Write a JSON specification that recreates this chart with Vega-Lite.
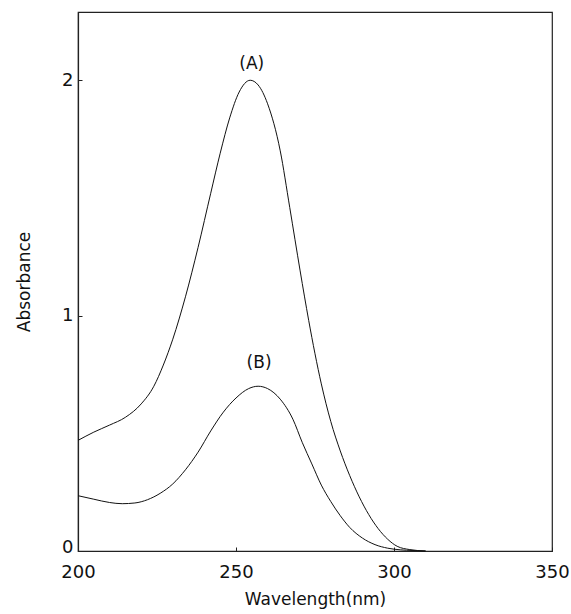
{
  "$schema": "https://vega.github.io/schema/vega-lite/v6.json",
  "width": 474,
  "height": 539,
  "autosize": {"type": "none"},
  "padding": {"left": 78, "top": 12, "right": 19, "bottom": 63},
  "background": "white",
  "config": {
    "view": {"stroke": "#222", "strokeWidth": 1.2},
    "font": "DejaVu Sans",
    "axis": {
      "grid": false,
      "domainColor": "#222",
      "domainWidth": 1.2,
      "tickColor": "#222",
      "tickSize": -4,
      "labelColor": "#111",
      "titleColor": "#111",
      "labelFont": "DejaVu Sans",
      "titleFont": "DejaVu Sans",
      "labelFontSize": 18,
      "titleFontSize": 17,
      "titleFontWeight": "normal",
      "labelFlush": false,
      "labelOverlap": false
    }
  },
  "datasets": {
    "spectra": [
      {"series": "A", "wavelength": 200, "absorbance": 0.47},
      {"series": "A", "wavelength": 205, "absorbance": 0.505},
      {"series": "A", "wavelength": 210, "absorbance": 0.535},
      {"series": "A", "wavelength": 215, "absorbance": 0.568},
      {"series": "A", "wavelength": 220, "absorbance": 0.625},
      {"series": "A", "wavelength": 224, "absorbance": 0.7},
      {"series": "A", "wavelength": 227, "absorbance": 0.79},
      {"series": "A", "wavelength": 230, "absorbance": 0.9},
      {"series": "A", "wavelength": 234, "absorbance": 1.08},
      {"series": "A", "wavelength": 238, "absorbance": 1.29},
      {"series": "A", "wavelength": 242, "absorbance": 1.52},
      {"series": "A", "wavelength": 245, "absorbance": 1.69},
      {"series": "A", "wavelength": 248, "absorbance": 1.84},
      {"series": "A", "wavelength": 251, "absorbance": 1.95},
      {"series": "A", "wavelength": 254.5, "absorbance": 2.0},
      {"series": "A", "wavelength": 257, "absorbance": 1.98},
      {"series": "A", "wavelength": 260, "absorbance": 1.9},
      {"series": "A", "wavelength": 264, "absorbance": 1.7},
      {"series": "A", "wavelength": 267, "absorbance": 1.46},
      {"series": "A", "wavelength": 270.3, "absorbance": 1.19},
      {"series": "A", "wavelength": 273, "absorbance": 0.98},
      {"series": "A", "wavelength": 277, "absorbance": 0.71},
      {"series": "A", "wavelength": 280, "absorbance": 0.55},
      {"series": "A", "wavelength": 283, "absorbance": 0.425},
      {"series": "A", "wavelength": 286, "absorbance": 0.32},
      {"series": "A", "wavelength": 289, "absorbance": 0.23},
      {"series": "A", "wavelength": 292, "absorbance": 0.155},
      {"series": "A", "wavelength": 295, "absorbance": 0.095},
      {"series": "A", "wavelength": 298, "absorbance": 0.05},
      {"series": "A", "wavelength": 301, "absorbance": 0.02},
      {"series": "A", "wavelength": 305, "absorbance": 0.006},
      {"series": "A", "wavelength": 310, "absorbance": 0.0},
      {"series": "B", "wavelength": 200, "absorbance": 0.235},
      {"series": "B", "wavelength": 205, "absorbance": 0.22},
      {"series": "B", "wavelength": 210, "absorbance": 0.206},
      {"series": "B", "wavelength": 214, "absorbance": 0.201},
      {"series": "B", "wavelength": 218, "absorbance": 0.204},
      {"series": "B", "wavelength": 222, "absorbance": 0.218},
      {"series": "B", "wavelength": 226, "absorbance": 0.245},
      {"series": "B", "wavelength": 230, "absorbance": 0.285},
      {"series": "B", "wavelength": 234, "absorbance": 0.345},
      {"series": "B", "wavelength": 238, "absorbance": 0.42},
      {"series": "B", "wavelength": 242, "absorbance": 0.51},
      {"series": "B", "wavelength": 246, "absorbance": 0.59},
      {"series": "B", "wavelength": 250, "absorbance": 0.65},
      {"series": "B", "wavelength": 254, "absorbance": 0.69},
      {"series": "B", "wavelength": 257, "absorbance": 0.7},
      {"series": "B", "wavelength": 260, "absorbance": 0.69},
      {"series": "B", "wavelength": 264, "absorbance": 0.645},
      {"series": "B", "wavelength": 268, "absorbance": 0.56},
      {"series": "B", "wavelength": 271, "absorbance": 0.46},
      {"series": "B", "wavelength": 274, "absorbance": 0.37},
      {"series": "B", "wavelength": 277, "absorbance": 0.28},
      {"series": "B", "wavelength": 280, "absorbance": 0.21},
      {"series": "B", "wavelength": 283, "absorbance": 0.15},
      {"series": "B", "wavelength": 286, "absorbance": 0.1},
      {"series": "B", "wavelength": 290, "absorbance": 0.055},
      {"series": "B", "wavelength": 294, "absorbance": 0.027},
      {"series": "B", "wavelength": 298, "absorbance": 0.012},
      {"series": "B", "wavelength": 302, "absorbance": 0.005},
      {"series": "B", "wavelength": 306, "absorbance": 0.002},
      {"series": "B", "wavelength": 310, "absorbance": 0.0}
    ],
    "labels": [
      {"wavelength": 255, "absorbance": 2.07, "label": "(A)"},
      {"wavelength": 257.3, "absorbance": 0.8, "label": "(B)"}
    ]
  },
  "layer": [
    {
      "data": {"name": "spectra"},
      "mark": {"type": "line", "interpolate": "monotone", "color": "#111", "strokeWidth": 1},
      "encoding": {
        "x": {
          "field": "wavelength",
          "type": "quantitative",
          "scale": {"domain": [200, 350], "nice": false, "zero": false},
          "axis": {"values": [200, 250, 300, 350], "format": "d", "title": "Wavelength(nm)", "labelPadding": 16, "titlePadding": 10}
        },
        "y": {
          "field": "absorbance",
          "type": "quantitative",
          "scale": {"domain": [0, 2.29], "nice": false},
          "axis": {
            "values": [0, 1, 2],
            "format": "d",
            "title": "Absorbance",
            "labelPadding": 9,
            "titlePadding": 28,
            "labelOffset": {"condition": {"test": "datum.value == 0", "value": -4}, "value": 0}
          }
        },
        "detail": {"field": "series"}
      }
    },
    {
      "data": {"name": "labels"},
      "mark": {"type": "text", "fontSize": 17, "font": "DejaVu Sans", "color": "#111"},
      "encoding": {
        "x": {"field": "wavelength", "type": "quantitative"},
        "y": {"field": "absorbance", "type": "quantitative"},
        "text": {"field": "label"}
      }
    }
  ]
}
